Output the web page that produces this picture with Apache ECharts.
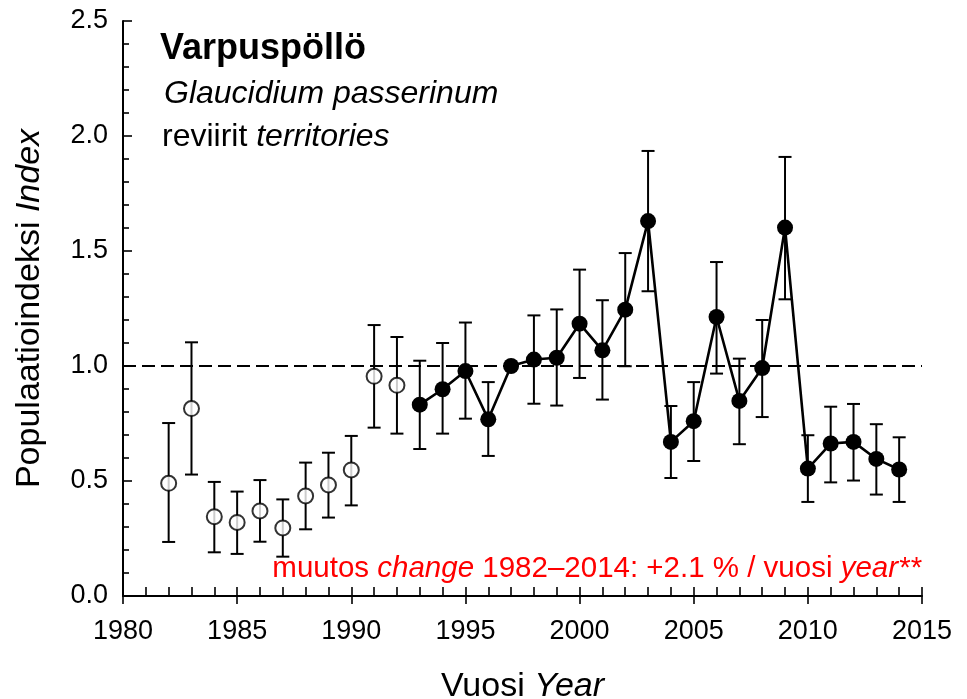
<!DOCTYPE html>
<html>
<head>
<meta charset="utf-8">
<script src="https://cdn.jsdelivr.net/npm/echarts@6/dist/echarts.min.js"></script>
<style>
html,body{margin:0;padding:0;background:#fff;}
#chart{width:967px;height:699px;}
</style>
</head>
<body>
<div id="chart"></div>
<script>
// ---- data ----
const years = [1982,1983,1984,1985,1986,1987,1988,1989,1990,1991,1992,1993,1994,1995,1996,1997,1998,1999,2000,2001,2002,2003,2004,2005,2006,2007,2008,2009,2010,2011,2012,2013,2014];
const indexValues = [0.49,0.815,0.345,0.32,0.37,0.296,0.435,0.483,0.548,0.955,0.916,0.832,0.899,0.978,0.768,1.0,1.028,1.036,1.184,1.068,1.245,1.630,0.670,0.760,1.213,0.848,0.991,1.602,0.554,0.663,0.670,0.596,0.550];
const lowerValues = [0.235,0.528,0.19,0.183,0.236,0.171,0.29,0.341,0.394,0.732,0.706,0.639,0.706,0.771,0.609,null,0.836,0.828,0.948,0.854,0.999,1.325,0.513,0.587,0.967,0.660,0.778,1.290,0.409,0.494,0.502,0.441,0.409];
const upperValues = [0.752,1.103,0.496,0.454,0.504,0.42,0.58,0.623,0.696,1.178,1.126,1.023,1.100,1.189,0.930,null,1.220,1.246,1.419,1.286,1.491,1.935,0.826,0.930,1.452,1.032,1.200,1.909,0.699,0.823,0.835,0.747,0.690];
const firstTrendYear = 1993;
const referenceLevel = 1.0;
const xTicks = { min: 1980, max: 2015, step: 5 };
const yTicks = { min: 0, max: 2.5, step: 0.5 };

const titleText = 'Varpuspöllö';
const speciesText = 'Glaucidium passerinum';
const unitText = 'reviirit {i|territories}';
const changeText = 'muutos {i|change} 1982\u20132014: +2.1 % / vuosi {i|year**}';
const yName = 'Populaatioindeksi {i|Index}';
const xName = 'Vuosi {i|Year}';

// ---- derived ----
const FONT = "'Liberation Sans', Arial, Helvetica, sans-serif";
const hollow = [], filled = [], errs = [];
years.forEach((y, i) => {
  if (y < firstTrendYear) hollow.push([y, indexValues[i]]);
  else filled.push([y, indexValues[i]]);
  if (lowerValues[i] != null) errs.push([y, lowerValues[i], upperValues[i]]);
});

const chart = echarts.init(document.getElementById('chart'), null, { renderer: 'canvas' });

const axisLineStyle = { color: '#000', width: 2 };
const option = {
  backgroundColor: '#fff',
  animation: false,
  grid: { left: 123, right: 45, top: 21, bottom: 103, containLabel: false, outerBoundsMode: 'none' },
  xAxis: [{
    type: 'value', position: 'bottom',
    min: xTicks.min, max: xTicks.max, interval: xTicks.step,
    axisLine: { show: true, lineStyle: axisLineStyle },
    axisTick: { show: true, inside: true, length: 9, lineStyle: { color: '#000', width: 1.6 } },
    minorTick: { show: true, splitNumber: 5, length: 9, lineStyle: { color: '#000', width: 1.6 } },
    axisLabel: { color: '#000', fontSize: 27, fontFamily: FONT, margin: 22, formatter: v => String(v) },
    splitLine: { show: false },
    name: xName, nameLocation: 'middle', nameGap: 74,
    nameTextStyle: { color: '#000', fontSize: 34, fontFamily: FONT, rich: { i: { fontStyle: 'italic', fontSize: 34, fontFamily: FONT, color: '#000' } } }
  }, {
    type: 'value', position: 'bottom',
    min: xTicks.min, max: xTicks.max, interval: xTicks.step,
    axisLine: { show: false },
    axisTick: { show: true, inside: false, length: 8, lineStyle: { color: '#000', width: 1.6 } },
    axisLabel: { show: false },
    splitLine: { show: false }
  }],
  yAxis: {
    type: 'value',
    min: yTicks.min, max: yTicks.max, interval: yTicks.step,
    axisLine: { show: true, lineStyle: axisLineStyle },
    axisTick: { show: true, inside: true, length: 9, lineStyle: { color: '#000', width: 1.6 } },
    minorTick: { show: true, splitNumber: 5, length: 6, lineStyle: { color: '#000', width: 1.6 } },
    axisLabel: { color: '#000', fontSize: 27, fontFamily: FONT, margin: 15, formatter: v => v.toFixed(1) },
    splitLine: { show: false },
    name: yName, nameLocation: 'middle', nameGap: 76, nameRotate: 90,
    nameTextStyle: { color: '#000', fontSize: 34, fontFamily: FONT, rich: { i: { fontStyle: 'italic', fontSize: 34, fontFamily: FONT, color: '#000' } } }
  },
  series: [{
    type: 'custom',
    name: 'errors',
    data: errs,
    z: 2,
    renderItem: (params, api) => {
      const x = api.value(0);
      const lo = api.coord([x, api.value(1)]);
      const hi = api.coord([x, api.value(2)]);
      const w = 6.5;
      const st = { stroke: '#000', lineWidth: 2 };
      return {
        type: 'group',
        children: [
          { type: 'line', shape: { x1: lo[0], y1: lo[1], x2: hi[0], y2: hi[1] }, style: st },
          { type: 'line', shape: { x1: lo[0] - w, y1: lo[1], x2: lo[0] + w, y2: lo[1] }, style: st },
          { type: 'line', shape: { x1: hi[0] - w, y1: hi[1], x2: hi[0] + w, y2: hi[1] }, style: st }
        ]
      };
    }
  }, {
    type: 'line',
    name: 'trend',
    data: filled,
    z: 4,
    symbol: 'circle', symbolSize: 16,
    itemStyle: { color: '#000' },
    lineStyle: { color: '#000', width: 2.6 },
    markLine: {
      silent: true, symbol: 'none', z: 1,
      label: { show: false },
      lineStyle: { color: '#000', width: 1.8, type: [13, 6] },
      data: [{ yAxis: referenceLevel }]
    }
  }, {
    type: 'scatter',
    name: 'early',
    data: hollow,
    z: 4,
    symbol: 'circle', symbolSize: 15,
    itemStyle: { color: '#fff', borderColor: '#000', borderWidth: 2 }
  }],
  graphic: [{
    type: 'text', x: 160, y: 49, z: 10,
    style: { text: titleText, fontSize: 36, fontWeight: 'bold', fontFamily: FONT, fill: '#000', textAlign: 'left', textVerticalAlign: 'middle' }
  }, {
    type: 'text', x: 164, y: 94, z: 10,
    style: { text: speciesText, fontSize: 32, fontStyle: 'italic', fontFamily: FONT, fill: '#000', textAlign: 'left', textVerticalAlign: 'middle' }
  }, {
    type: 'text', x: 162, y: 137, z: 10,
    style: { text: unitText, fontSize: 32, fontFamily: FONT, fill: '#000', textAlign: 'left', textVerticalAlign: 'middle',
      rich: { i: { fontStyle: 'italic', fontSize: 32, fontFamily: FONT, fill: '#000' } } }
  }, {
    type: 'text', x: 921, y: 569, z: 10,
    style: { text: changeText, fontSize: 29.5, fontFamily: FONT, fill: '#ff0000', textAlign: 'right', textVerticalAlign: 'middle',
      rich: { i: { fontStyle: 'italic', fontSize: 29.5, fontFamily: FONT, fill: '#ff0000' } } }
  }]
};
chart.setOption(option);
</script>
</body>
</html>
